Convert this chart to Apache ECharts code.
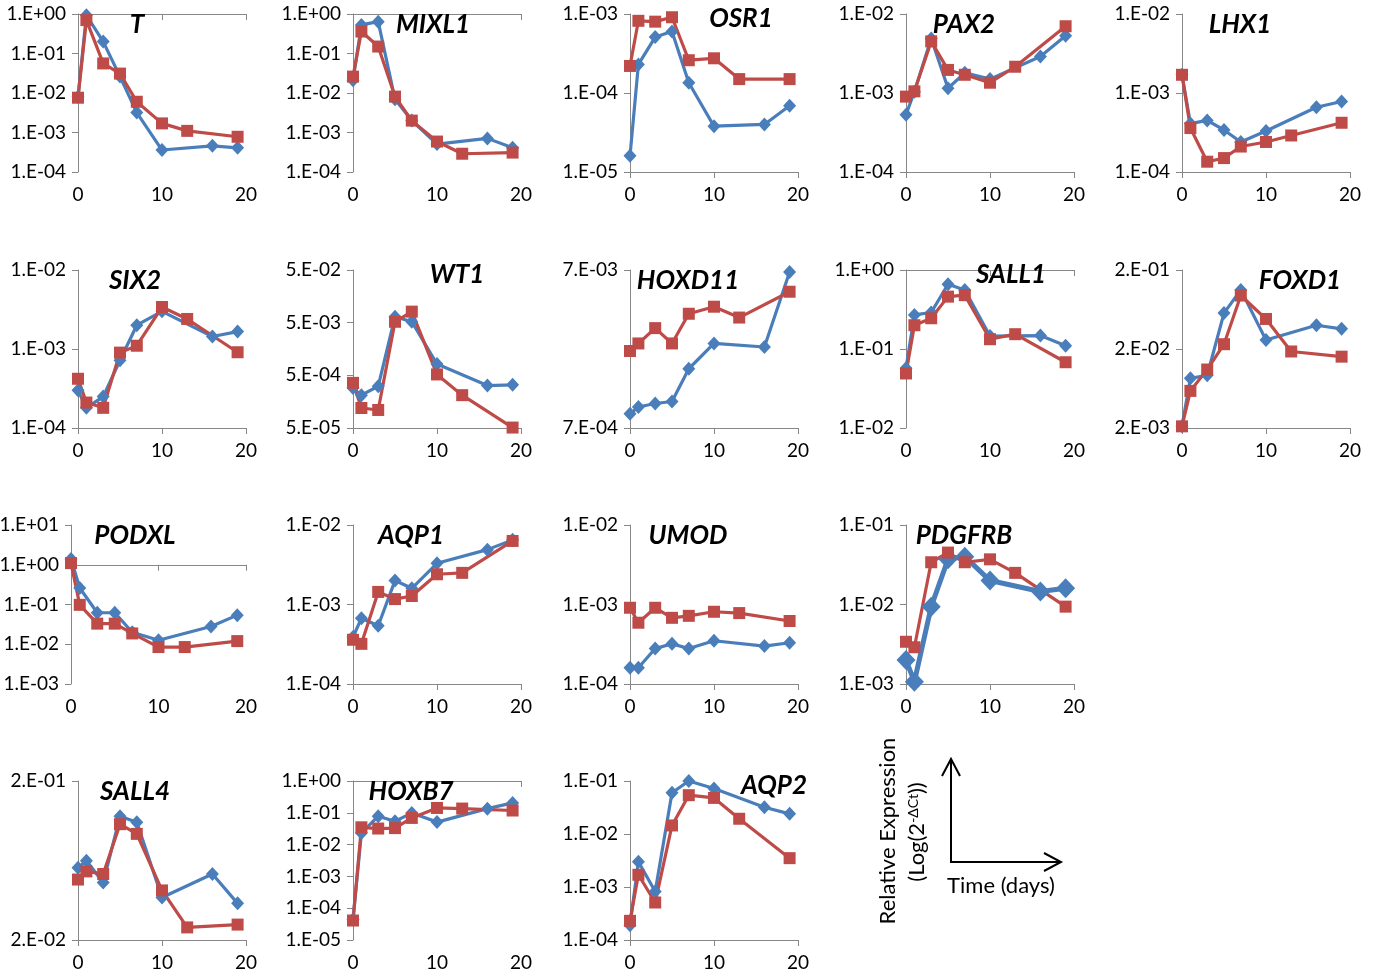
<!DOCTYPE html>
<html>
<head>
<meta charset="utf-8">
<script src="https://cdn.jsdelivr.net/npm/echarts@6/dist/echarts.min.js"></script>
<style>
  html, body { margin: 0; padding: 0; background: #fff; }
  #chart { width: 1376px; height: 980px; }
</style>
</head>
<body>
<div id="chart"></div>
<script>
// ---------------- DATA ----------------
const daysBlue = [0, 1, 3, 5, 7, 10, 16, 19];
const daysRed  = [0, 1, 3, 5, 7, 10, 13, 19];
const xTicks = [0, 10, 20];

const genes = ['T','MIXL1','OSR1','PAX2','LHX1','SIX2','WT1','HOXD11','SALL1','FOXD1',
               'PODXL','AQP1','UMOD','PDGFRB','SALL4','HOXB7','AQP2'];

// y tick labels per gene (log scale)
const yTicks_T      = ['1.E-04','1.E-03','1.E-02','1.E-01','1.E+00'];
const yTicks_MIXL1  = ['1.E-04','1.E-03','1.E-02','1.E-01','1.E+00'];
const yTicks_OSR1   = ['1.E-05','1.E-04','1.E-03'];
const yTicks_PAX2   = ['1.E-04','1.E-03','1.E-02'];
const yTicks_LHX1   = ['1.E-04','1.E-03','1.E-02'];
const yTicks_SIX2   = ['1.E-04','1.E-03','1.E-02'];
const yTicks_WT1    = ['5.E-05','5.E-04','5.E-03','5.E-02'];
const yTicks_HOXD11 = ['7.E-04','7.E-03'];
const yTicks_SALL1  = ['1.E-02','1.E-01','1.E+00'];
const yTicks_FOXD1  = ['2.E-03','2.E-02','2.E-01'];
const yTicks_PODXL  = ['1.E-03','1.E-02','1.E-01','1.E+00','1.E+01'];
const yTicks_AQP1   = ['1.E-04','1.E-03','1.E-02'];
const yTicks_UMOD   = ['1.E-04','1.E-03','1.E-02'];
const yTicks_PDGFRB = ['1.E-03','1.E-02','1.E-01'];
const yTicks_SALL4  = ['2.E-02','2.E-01'];
const yTicks_HOXB7  = ['1.E-05','1.E-04','1.E-03','1.E-02','1.E-01','1.E+00'];
const yTicks_AQP2   = ['1.E-04','1.E-03','1.E-02','1.E-01'];

// blue series (diamonds) at daysBlue, red series (squares) at daysRed
const T_blue      = [8.0e-3, 0.93, 0.20, 0.026, 3.2e-3, 3.6e-4, 4.6e-4, 4.1e-4];
const T_red       = [7.6e-3, 0.70, 0.056, 0.031, 6.0e-3, 1.7e-3, 1.1e-3, 7.8e-4];
const MIXL1_blue  = [0.021, 0.53, 0.64, 6.9e-3, 2.0e-3, 5.1e-4, 7.1e-4, 4.1e-4];
const MIXL1_red   = [0.026, 0.36, 0.15, 8.1e-3, 2.0e-3, 5.9e-4, 2.9e-4, 3.1e-4];
const OSR1_blue   = [1.6e-5, 2.3e-4, 5.1e-4, 6.0e-4, 1.35e-4, 3.8e-5, 4.0e-5, 6.9e-5];
const OSR1_red    = [2.2e-4, 8.2e-4, 8.0e-4, 9.1e-4, 2.6e-4, 2.75e-4, 1.5e-4, 1.5e-4];
const PAX2_blue   = [5.3e-4, 1.04e-3, 4.9e-3, 1.15e-3, 1.8e-3, 1.5e-3, 2.9e-3, 5.3e-3];
const PAX2_red    = [9.0e-4, 1.05e-3, 4.5e-3, 1.96e-3, 1.7e-3, 1.35e-3, 2.15e-3, 7.0e-3];
const LHX1_blue   = [1.7e-3, 4.1e-4, 4.5e-4, 3.4e-4, 2.4e-4, 3.3e-4, 6.6e-4, 7.8e-4];
const LHX1_red    = [1.7e-3, 3.6e-4, 1.35e-4, 1.5e-4, 2.1e-4, 2.4e-4, 2.9e-4, 4.2e-4];
const SIX2_blue   = [3.0e-4, 1.8e-4, 2.5e-4, 7.2e-4, 2.0e-3, 3.0e-3, 1.44e-3, 1.66e-3];
const SIX2_red    = [4.2e-4, 2.1e-4, 1.8e-4, 9.0e-4, 1.1e-3, 3.4e-3, 2.4e-3, 9.1e-4];
const WT1_blue    = [2.86e-4, 2.1e-4, 3.1e-4, 6.5e-3, 5.2e-3, 8.2e-4, 3.2e-4, 3.3e-4];
const WT1_red     = [3.6e-4, 1.2e-4, 1.1e-4, 5.2e-3, 8.1e-3, 5.2e-4, 2.1e-4, 5.1e-5];
const HOXD11_blue = [8.6e-4, 9.5e-4, 1.0e-3, 1.03e-3, 1.66e-3, 2.4e-3, 2.28e-3, 6.8e-3];
const HOXD11_red  = [2.15e-3, 2.4e-3, 3.0e-3, 2.4e-3, 3.7e-3, 4.1e-3, 3.5e-3, 5.1e-3];
const SALL1_blue  = [0.057, 0.27, 0.29, 0.66, 0.56, 0.146, 0.148, 0.11];
const SALL1_red   = [0.049, 0.20, 0.245, 0.46, 0.48, 0.133, 0.154, 0.068];
const FOXD1_blue  = [2.1e-3, 8.5e-3, 9.3e-3, 0.057, 0.112, 0.026, 0.040, 0.036];
const FOXD1_red   = [2.1e-3, 5.9e-3, 0.011, 0.023, 0.095, 0.048, 0.0186, 0.016];
const PODXL_blue  = [1.4, 0.26, 0.062, 0.062, 0.020, 0.0126, 0.028, 0.054];
const PODXL_red   = [1.1, 0.098, 0.033, 0.033, 0.0187, 8.5e-3, 8.5e-3, 0.012];
const AQP1_blue   = [3.9e-4, 6.7e-4, 5.4e-4, 2.0e-3, 1.6e-3, 3.3e-3, 4.9e-3, 6.5e-3];
const AQP1_red    = [3.6e-4, 3.2e-4, 1.44e-3, 1.17e-3, 1.28e-3, 2.4e-3, 2.5e-3, 6.3e-3];
const UMOD_blue   = [1.6e-4, 1.6e-4, 2.8e-4, 3.2e-4, 2.8e-4, 3.5e-4, 3.0e-4, 3.3e-4];
const UMOD_red    = [9.1e-4, 5.9e-4, 9.1e-4, 6.8e-4, 7.2e-4, 8.1e-4, 7.8e-4, 6.2e-4];
const PDGFRB_blue = [2.0e-3, 1.07e-3, 9.4e-3, 0.037, 0.040, 0.020, 0.0146, 0.016];
const PDGFRB_red  = [3.4e-3, 2.9e-3, 0.034, 0.045, 0.034, 0.037, 0.025, 9.4e-3];
const SALL4_blue  = [0.057, 0.063, 0.046, 0.12, 0.11, 0.037, 0.052, 0.034];
const SALL4_red   = [0.048, 0.054, 0.052, 0.107, 0.093, 0.041, 0.024, 0.025];
const HOXB7_blue  = [4.4e-5, 0.023, 0.078, 0.054, 0.099, 0.051, 0.135, 0.205];
const HOXB7_red   = [4.1e-5, 0.035, 0.032, 0.033, 0.069, 0.142, 0.136, 0.118];
const AQP2_blue   = [1.9e-4, 3.0e-3, 8.2e-4, 0.060, 0.10, 0.072, 0.032, 0.024];
const AQP2_red    = [2.3e-4, 1.7e-3, 5.1e-4, 0.0145, 0.054, 0.048, 0.0194, 3.5e-3];

const dataByGene = {
  T: [yTicks_T, T_blue, T_red], MIXL1: [yTicks_MIXL1, MIXL1_blue, MIXL1_red],
  OSR1: [yTicks_OSR1, OSR1_blue, OSR1_red], PAX2: [yTicks_PAX2, PAX2_blue, PAX2_red],
  LHX1: [yTicks_LHX1, LHX1_blue, LHX1_red], SIX2: [yTicks_SIX2, SIX2_blue, SIX2_red],
  WT1: [yTicks_WT1, WT1_blue, WT1_red], HOXD11: [yTicks_HOXD11, HOXD11_blue, HOXD11_red],
  SALL1: [yTicks_SALL1, SALL1_blue, SALL1_red], FOXD1: [yTicks_FOXD1, FOXD1_blue, FOXD1_red],
  PODXL: [yTicks_PODXL, PODXL_blue, PODXL_red], AQP1: [yTicks_AQP1, AQP1_blue, AQP1_red],
  UMOD: [yTicks_UMOD, UMOD_blue, UMOD_red], PDGFRB: [yTicks_PDGFRB, PDGFRB_blue, PDGFRB_red],
  SALL4: [yTicks_SALL4, SALL4_blue, SALL4_red], HOXB7: [yTicks_HOXB7, HOXB7_blue, HOXB7_red],
  AQP2: [yTicks_AQP2, AQP2_blue, AQP2_red]
};

// ---------------- LAYOUT / STYLE ----------------
const colLeft = [78, 353, 630, 906, 1182];
const rowTop = [14, 270, 525, 781];
const rowH = [158, 158, 159, 159];
const plotW = 168;
const cells = {
  T:[0,0], MIXL1:[1,0], OSR1:[2,0], PAX2:[3,0], LHX1:[4,0],
  SIX2:[0,1], WT1:[1,1], HOXD11:[2,1], SALL1:[3,1], FOXD1:[4,1],
  PODXL:[0,2], AQP1:[1,2], UMOD:[2,2], PDGFRB:[3,2],
  SALL4:[0,3], HOXB7:[1,3], AQP2:[2,3]
};
const gridOverride = { PODXL: { left: 71, width: 175 } };
const titlePos = {
  T:[137,25], MIXL1:[433,25], OSR1:[741,19], PAX2:[964,25], LHX1:[1240,25],
  SIX2:[135,281], WT1:[457,275], HOXD11:[688,281], SALL1:[1011,275], FOXD1:[1300,281],
  PODXL:[135,536], AQP1:[411,536], UMOD:[688,536], PDGFRB:[964,536],
  SALL4:[135,792], HOXB7:[411,792], AQP2:[774,786]
};
const BLUE = '#4A7EBB', RED = '#BE4B48', AXIS = '#878787';
const FONT = 'Lato, "Open Sans", sans-serif';
const TICK_FS = 19;

const lg = v => Math.log10(v);

const grids = [], xAxes = [], yAxes = [], series = [], graphics = [];

genes.forEach((g, i) => {
  const [yTicks, blue, red] = dataByGene[g];
  const [c, r] = cells[g];
  const ov = gridOverride[g] || {};
  grids.push({
    left: ov.left != null ? ov.left : colLeft[c],
    top: rowTop[r],
    width: ov.width != null ? ov.width : plotW,
    height: rowH[r],
    outerBoundsMode: 'none'
  });
  xAxes.push({
    gridIndex: i, type: 'value', min: xTicks[0], max: xTicks[xTicks.length - 1], interval: 10,
    axisLine: { show: true, lineStyle: { color: AXIS, width: 1 } },
    axisTick: { show: true, length: 6, lineStyle: { color: AXIS } },
    splitLine: { show: false },
    axisLabel: { fontFamily: FONT, fontSize: TICK_FS, color: '#000', margin: 13 }
  });
  const tickVals = yTicks.map(t => lg(Number(t)));
  const fmt = v => {
    for (let k = 0; k < tickVals.length; k++) {
      if (Math.abs(tickVals[k] - v) < 0.02) return yTicks[k];
    }
    return '';
  };
  yAxes.push({
    gridIndex: i, type: 'value',
    min: tickVals[0], max: tickVals[tickVals.length - 1], interval: 1,
    axisLine: { show: true, lineStyle: { color: AXIS, width: 1 } },
    axisTick: { show: true, length: 6, lineStyle: { color: AXIS }, customValues: tickVals },
    splitLine: { show: false },
    axisLabel: { fontFamily: FONT, fontSize: TICK_FS, color: '#000', margin: 12,
                 formatter: fmt, customValues: tickVals }
  });
  const big = g === 'PDGFRB';
  series.push({
    name: g + ' series 1', type: 'line', xAxisIndex: i, yAxisIndex: i,
    data: daysBlue.map((d, k) => [d, lg(blue[k])]),
    symbol: 'diamond', symbolSize: big ? [19, 20] : [13, 14],
    itemStyle: { color: BLUE }, lineStyle: { color: BLUE, width: big ? 5 : 3.2 },
    clip: false, silent: true
  });
  series.push({
    name: g + ' series 2', type: 'line', xAxisIndex: i, yAxisIndex: i,
    data: daysRed.map((d, k) => [d, lg(red[k])]),
    symbol: 'rect', symbolSize: 12,
    itemStyle: { color: RED }, lineStyle: { color: RED, width: 3.2 },
    clip: false, silent: true
  });
  const tp = titlePos[g];
  graphics.push({
    type: 'text', x: tp[0], y: tp[1], z: 100,
    style: { text: g, fontFamily: FONT, fontSize: 26, fontWeight: 'bold', fontStyle: 'italic',
             fill: '#000', align: 'center', verticalAlign: 'middle',
             textAlign: 'center', textVerticalAlign: 'middle' }
  });
});

// annotation (axis legend) in the lower right
graphics.push(
  { type: 'text', x: 888, y: 831, rotation: Math.PI / 2,
    style: { text: 'Relative Expression', fontFamily: FONT, fontSize: 22, fill: '#000',
             align: 'center', verticalAlign: 'middle', textAlign: 'center', textVerticalAlign: 'middle' } },
  { type: 'text', x: 917, y: 832, rotation: Math.PI / 2,
    style: { text: '(Log(2{sup|-ΔCt}))', fontFamily: FONT, fontSize: 22, fill: '#000',
             align: 'center', verticalAlign: 'middle', textAlign: 'center', textVerticalAlign: 'middle',
             rich: { sup: { fontFamily: FONT, fontSize: 14, fill: '#000', verticalAlign: 'top', padding: [0, 0, 6, 0] } } } },
  { type: 'text', x: 1001, y: 886,
    style: { text: 'Time (days)', fontFamily: FONT, fontSize: 22, fill: '#000',
             align: 'center', verticalAlign: 'middle', textAlign: 'center', textVerticalAlign: 'middle' } },
  { type: 'polyline', shape: { points: [[951, 759], [951, 862], [1061, 862]] },
    style: { stroke: '#000', lineWidth: 2, fill: null } },
  { type: 'polyline', shape: { points: [[942, 776], [951, 759], [960, 776]] },
    style: { stroke: '#000', lineWidth: 2, fill: null } },
  { type: 'polyline', shape: { points: [[1044, 853], [1061, 862], [1044, 871]] },
    style: { stroke: '#000', lineWidth: 2, fill: null } }
);

const chart = echarts.init(document.getElementById('chart'), null, { renderer: 'canvas' });
chart.setOption({
  animation: false,
  backgroundColor: '#fff',
  grid: grids,
  xAxis: xAxes,
  yAxis: yAxes,
  series: series,
  graphic: graphics
});
</script>
</body>
</html>
